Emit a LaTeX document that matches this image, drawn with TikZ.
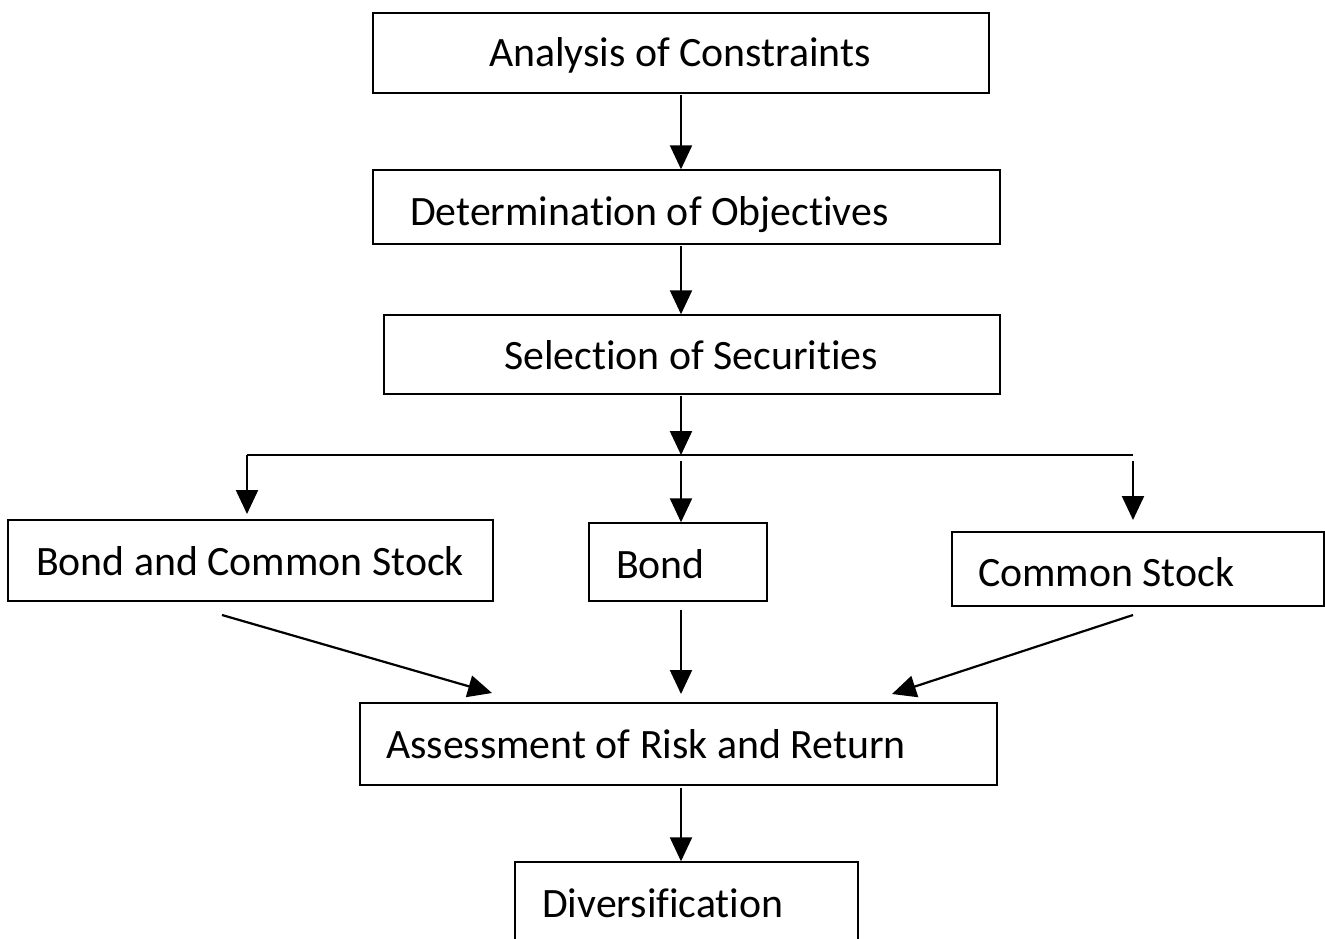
\documentclass[tikz,border=0pt]{standalone}
\usepackage{fontspec}
\setmainfont[Ligatures={NoCommon}]{Carlito}
\usetikzlibrary{arrows.meta}
\begin{document}
\begin{tikzpicture}[x=1pt,y=-1pt,
  box/.style={draw,line width=1.4pt,inner sep=0pt},
  lbl/.style={anchor=base west,inner sep=0pt,font=\fontsize{41.8}{48}\selectfont},
  arr/.style={line width=2.2pt,-{Triangle[width=22pt,length=24pt]}},
  ln/.style={line width=2.2pt}]
\useasboundingbox (0,0) rectangle (1325,938);
% boxes
\node[box,minimum width=616pt,minimum height=80pt] (b1) at (681,53) {};
\node[box,minimum width=627pt,minimum height=74pt] (b2) at (686.5,207) {};
\node[box,minimum width=616pt,minimum height=79pt] (b3) at (692,354.5) {};
\node[box,minimum width=485pt,minimum height=81pt] (b4) at (250.5,560.5) {};
\node[box,minimum width=178pt,minimum height=78pt] (b5) at (678,562) {};
\node[box,minimum width=372pt,minimum height=74pt] (b6) at (1138,569) {};
\node[box,minimum width=637pt,minimum height=82pt] (b7) at (678.5,744) {};
\node[box,minimum width=343pt,minimum height=84pt] (b8) at (686.5,904) {};
% texts
\node[lbl] (t1) at (489,66) {Analysis of Constraints};
\node[lbl] (t2) at (410,225) {Determination of Objectives};
\node[lbl] (t3) at (504,369) {Selection of Securities};
\node[lbl] (t4) at (36,575) {Bond and Common Stock};
\node[lbl] (t5) at (616,578) {Bond};
\node[lbl] (t6) at (978,586) {Common Stock};
\node[lbl] (t7) at (386,758) {Assessment of Risk and Return};
\node[lbl] (t8) at (542,917) {Diversification};
% connectors
\coordinate (a1) at (681,95);
\coordinate (a2) at (681,246);
\coordinate (a3) at (681,396);
\coordinate (hL) at (247,455);
\coordinate (hR) at (1133,455);
\coordinate (hM) at (681,455);
\draw[arr] (a1) -- (b2.north -| a1);
\draw[arr] (a2) -- (b3.north -| a2);
\draw[arr] (a3) -- (hM);
\draw[ln] (hR) -- (hL);
\draw[arr] (hL) -- (247,514);
\draw[arr] (681,461) -- (b5.north -| hM);
\draw[arr] (1133,461) -- (1133,520);
\coordinate (s4) at (222,615);
\coordinate (s5) at (681,610);
\coordinate (s6) at (1133,615);
\draw[arr] (s4) -- (492,693);
\draw[arr] (s5) -- (681,694);
\draw[arr] (s6) -- (892,694);
\coordinate (a7) at (681,788);
\draw[arr] (a7) -- (b8.north -| a7);
\end{tikzpicture}
\end{document}
